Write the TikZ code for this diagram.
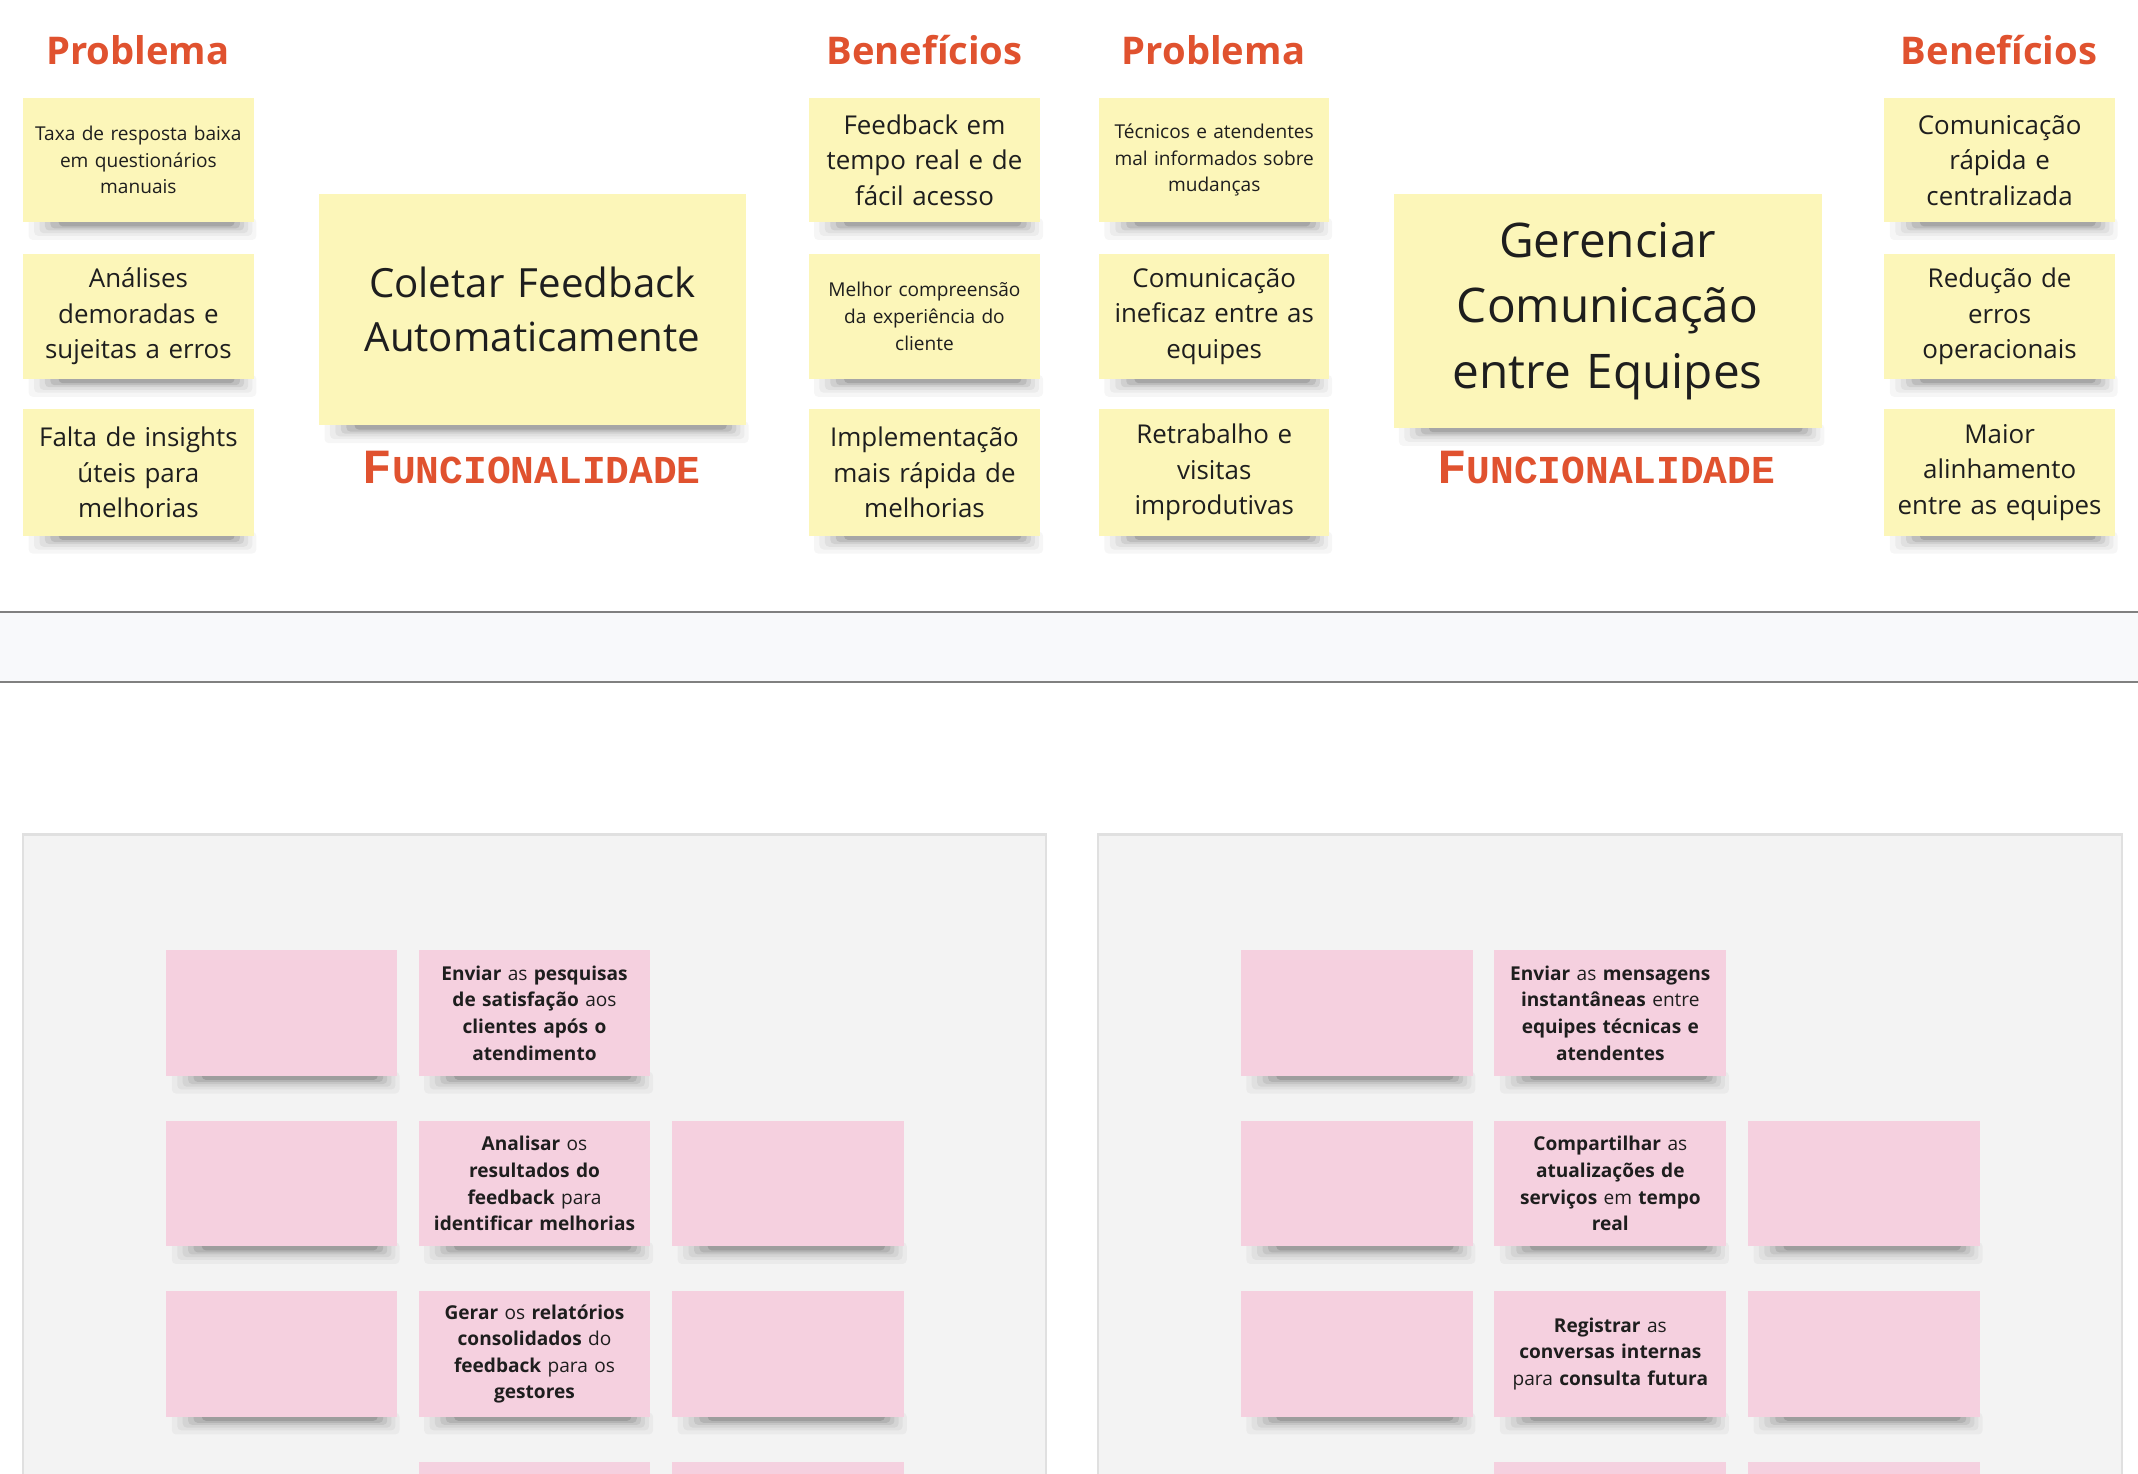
\documentclass[tikz,border=0pt]{standalone}
\usepackage{fontspec}
\setmainfont{Open Sans}
\newfontfamily\slab{Liberation Mono}
\usetikzlibrary{calc}
\definecolor{hdr}{HTML}{E0522F}
\definecolor{yel}{HTML}{FCF6B9}
\definecolor{pnk}{HTML}{F5D0DF}
\definecolor{ink}{HTML}{1E1E1E}
\definecolor{panelfill}{HTML}{F3F3F3}
\definecolor{paneledge}{HTML}{E0E0E0}
\definecolor{bandfill}{HTML}{F8F9FB}
\definecolor{bandline}{HTML}{808080}
\tikzset{
  notebox/.style={draw=none, inner sep=0pt, align=center, text=ink},
  header/.style={text=hdr, font=\fontsize{28}{32}\selectfont\bfseries, inner sep=0pt},
  funclabel/.style={text=hdr, inner sep=0pt, font=\slab\bfseries},
  softshade/.style={black, opacity=#1, rounded corners=3pt},
}
\newcommand\smalltxt{\fontsize{14}{19.5}\selectfont}
\newcommand\midtxt{\fontsize{19}{26}\selectfont}
\newcommand\pinktxt{\fontsize{14}{19.5}\selectfont}
% #1 name, #2 colour, #3 x1, #4 y1, #5 x2, #6 y2, #7 font, #8 text
\newcommand\sticky[8]{%
  \fill[softshade=.035] (#3+4,#6-3) rectangle (#5+2,#6+13);
  \fill[softshade=.04] (#3+8,#6-3) rectangle (#5-1,#6+10);
  \fill[softshade=.05] (#3+12,#6-3) rectangle (#5-4,#6+8);
  \fill[softshade=.07] (#3+16,#6-3) rectangle (#5-7,#6+6);
  \fill[softshade=.09] (#3+20,#6-3) rectangle (#5-10,#6+4.5);
  \fill[softshade=.12] (#3+26,#6-3) rectangle (#5-14,#6+3);
  \node[notebox, fill=#2, minimum width={#5-#3}, minimum height={#6-#4}, text width={#5-#3-12}, font={#7}]
    (#1) at ({(#3+#5)/2},{(#4+#6)/2}) {#8};
}
\newcommand\funcword{{\fontsize{36}{36}\selectfont F}{\fontsize{29}{29}\selectfont UNCIONALIDADE}}
\begin{document}
\begin{tikzpicture}[x=1pt,y=-1pt]
\useasboundingbox (0,0) rectangle (1568,1081);
\begin{scope}
\clip (0,0) rectangle (1568,1081);

% ---------- top: headers ----------
\node[header] (h1) at (101,37) {Problema};
\node[header] (h2) at (678,37) {Benefícios};
\node[header] (h3) at (890,37) {Problema};
\node[header] (h4) at (1466,37) {Benefícios};

% ---------- column 1 ----------
\sticky{p1a}{yel}{17}{72}{186}{163}{\smalltxt}{Taxa de resposta baixa\\em questionários\\manuais}
\sticky{p1b}{yel}{17}{186}{186}{278}{\midtxt}{Análises\\demoradas e\\sujeitas a erros}
\sticky{p1c}{yel}{17}{300}{186}{393}{\midtxt}{Falta de insights\\úteis para\\melhorias}

% ---------- big note 1 ----------
\sticky{f1}{yel}{234}{142}{547}{312}{\fontsize{29.5}{40}\selectfont}{Coletar Feedback\\Automaticamente}
\node[funclabel] (fl1) at (390,343) {\funcword};

% ---------- column 2 ----------
\sticky{b1a}{yel}{593}{72}{763}{163}{\midtxt}{Feedback em\\tempo real e de\\fácil acesso}
\sticky{b1b}{yel}{593}{186}{763}{278}{\smalltxt}{Melhor compreensão\\da experiência do\\cliente}
\sticky{b1c}{yel}{593}{300}{763}{393}{\midtxt}{Implementação\\mais rápida de\\melhorias}

% ---------- column 3 ----------
\sticky{p2a}{yel}{806}{72}{975}{163}{\smalltxt}{Técnicos e atendentes\\mal informados sobre\\mudanças}
\sticky{p2b}{yel}{806}{186}{975}{278}{\midtxt}{Comunicação\\ineficaz entre as\\equipes}
\sticky{p2c}{yel}{806}{300}{975}{393}{\midtxt}{Retrabalho e\\visitas\\improdutivas}

% ---------- big note 2 ----------
\sticky{f2}{yel}{1022}{142}{1336}{314}{\fontsize{35}{48}\selectfont}{Gerenciar\\Comunicação\\entre Equipes}
\node[funclabel] (fl2) at (1178,343) {\funcword};

% ---------- column 4 ----------
\sticky{b2a}{yel}{1382}{72}{1551}{163}{\midtxt}{Comunicação\\rápida e\\centralizada}
\sticky{b2b}{yel}{1382}{186}{1551}{278}{\midtxt}{Redução de\\erros\\operacionais}
\sticky{b2c}{yel}{1382}{300}{1551}{393}{\midtxt}{Maior\\alinhamento\\entre as equipes}

% ---------- separator band ----------
\fill[bandfill] (0,449) rectangle (1568,500);
\draw[bandline, line width=1.6pt] (0,449) -- (1568,449);
\draw[bandline, line width=1.6pt] (0,500) -- (1568,500);

% ---------- lower panels ----------
\filldraw[fill=panelfill, draw=paneledge, line width=1.5pt] (17,612) rectangle (767,1120);
\filldraw[fill=panelfill, draw=paneledge, line width=1.5pt] (805,612) rectangle (1556,1120);

% panel 1
\sticky{la1}{pnk}{122}{697}{291}{789}{}{}
\sticky{lb1}{pnk}{307}{697}{477}{789}{\pinktxt}{\textbf{Enviar} as \textbf{pesquisas}\\\textbf{de satisfação} aos\\\textbf{clientes após o}\\\textbf{atendimento}}
\sticky{la2}{pnk}{122}{822}{291}{914}{}{}
\sticky{lb2}{pnk}{307}{822}{477}{914}{\pinktxt}{\textbf{Analisar} os\\\textbf{resultados do}\\\textbf{feedback} para\\\textbf{identificar melhorias}}
\sticky{lc2}{pnk}{493}{822}{663}{914}{}{}
\sticky{la3}{pnk}{122}{947}{291}{1039}{}{}
\sticky{lb3}{pnk}{307}{947}{477}{1039}{\pinktxt}{\textbf{Gerar} os \textbf{relatórios}\\\textbf{consolidados} do\\\textbf{feedback} para os\\\textbf{gestores}}
\sticky{lc3}{pnk}{493}{947}{663}{1039}{}{}
\sticky{lb4}{pnk}{307}{1072}{477}{1164}{}{}
\sticky{lc4}{pnk}{493}{1072}{663}{1164}{}{}

% panel 2
\sticky{ra1}{pnk}{910}{697}{1080}{789}{}{}
\sticky{rb1}{pnk}{1096}{697}{1266}{789}{\pinktxt}{\textbf{Enviar} as \textbf{mensagens}\\\textbf{instantâneas} entre\\\textbf{equipes técnicas e}\\\textbf{atendentes}}
\sticky{ra2}{pnk}{910}{822}{1080}{914}{}{}
\sticky{rb2}{pnk}{1096}{822}{1266}{914}{\pinktxt}{\textbf{Compartilhar} as\\\textbf{atualizações de}\\\textbf{serviços} em \textbf{tempo}\\\textbf{real}}
\sticky{rc2}{pnk}{1282}{822}{1452}{914}{}{}
\sticky{ra3}{pnk}{910}{947}{1080}{1039}{}{}
\sticky{rb3}{pnk}{1096}{947}{1266}{1039}{\pinktxt}{\textbf{Registrar} as\\\textbf{conversas internas}\\para \textbf{consulta futura}}
\sticky{rc3}{pnk}{1282}{947}{1452}{1039}{}{}
\sticky{rb4}{pnk}{1096}{1072}{1266}{1164}{}{}
\sticky{rc4}{pnk}{1282}{1072}{1452}{1164}{}{}
\end{scope}
\end{tikzpicture}
\end{document}
